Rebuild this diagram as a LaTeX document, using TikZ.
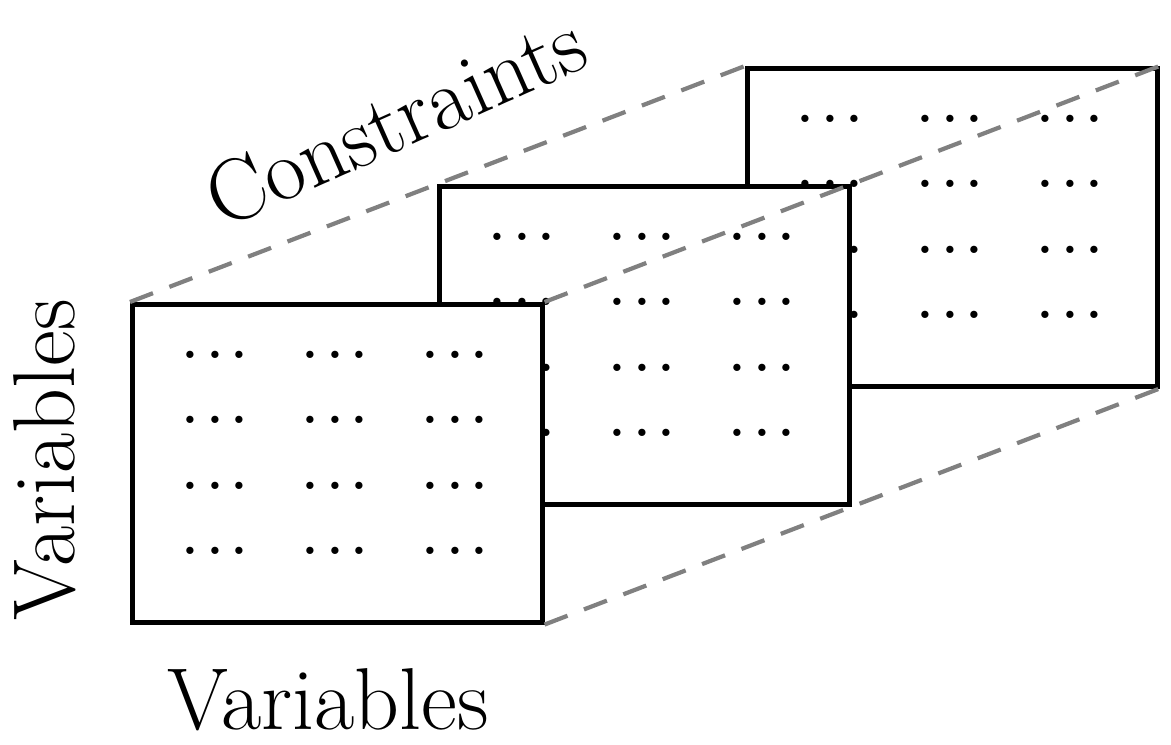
\documentclass[tikz,border=0pt]{standalone}
\usetikzlibrary{positioning}
\tikzset{
  frame/.style={draw, fill=white, minimum width=4.1cm, minimum height=3.18cm, inner sep=0pt, line width=1.3pt},
  guide/.style={gray, line width=1.2pt, dash pattern=on 7pt off 5pt},
  cell/.style={font=\Large\bfseries},
  label/.style={font=\fontsize{25}{30}\selectfont},
}
\newcommand{\celldots}{.\hspace{0.09cm}.\hspace{0.09cm}.}
\begin{document}
\begin{tikzpicture}
  \useasboundingbox (0,0) rectangle (11.71,7.45);

  % frames, back to front
  \foreach \name/\dx/\dy in {back/6.15/2.36, mid/3.07/1.18, front/0/0} {
    \node[frame, anchor=north west] (\name) at (1.30+\dx,4.43+\dy) {};
    \foreach \r in {1,...,4} {
      \foreach \c in {1,2,3} {
        \node[cell] (\name-\r-\c) at ([xshift=(\c*1.2-0.35)*1cm, yshift=-(\r*0.655-0.13)*1cm]\name.north west) {\celldots};
      }
    }
  }

  % perspective guides
  \draw[guide] (front.north west) -- (back.north west);
  \draw[guide] (front.north east) -- (back.north east);
  \draw[guide] (front.south east) -- (back.south east);

  % labels
  \node[label] (varbottom) at (3.28,0.45) {Variables};
  \node[label, rotate=90] (varleft) at (0.45,2.85) {Variables};
  \node[label, rotate=24] (cons) at (3.95,6.25) {Constraints};
\end{tikzpicture}
\end{document}
